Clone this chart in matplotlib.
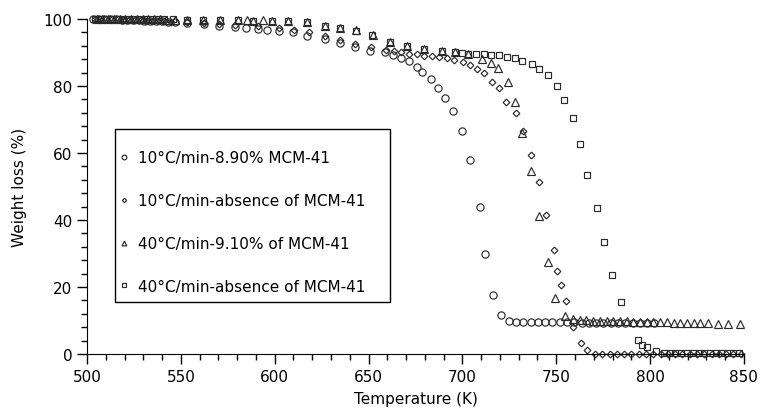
import matplotlib.pyplot as plt
from matplotlib.patches import Rectangle

plt.rcParams['font.family'] = ['DejaVu Sans']

# 10 C/min - 8.90% MCM-41 (circles)
t_c = [503.1, 506.1, 509.2, 512.3, 515.3, 518.4, 521.4, 524.5, 527.6, 530.6, 533.7,
       536.8, 539.8, 542.9, 547.0, 553.1, 562.3, 570.5, 578.6, 584.8, 590.9, 596.0,
       602.1, 609.8, 617.4, 626.6, 634.8, 643.0, 650.7, 658.8, 663.0, 667.5, 671.6,
       675.7, 678.7, 683.2, 686.9, 691.0, 695.1, 699.8, 704.3, 709.4, 712.0, 716.3,
       720.6, 724.7, 728.6, 732.4, 736.3, 740.2, 744.1, 748.0, 751.9, 755.7, 759.6,
       763.5, 767.4, 771.3, 775.1, 779.0, 782.9, 786.8, 790.7, 794.5, 798.4, 802.3]
w_c = [100, 100, 100, 100, 100, 99.8, 99.8, 99.6, 99.6, 99.5, 99.5,
       99.4, 99.3, 99.2, 99, 98.8, 98.5, 98, 97.5, 97.2, 97, 96.8,
       96.5, 96, 95, 94, 92.8, 91.5, 90.5, 90.1, 89.3, 88.3, 87.5,
       85.7, 84.1, 82, 79.4, 76.4, 72.5, 66.6, 58, 44, 30, 17.5,
       11.5, 9.8, 9.7, 9.7, 9.6, 9.6, 9.6, 9.5, 9.5, 9.5, 9.5,
       9.4, 9.4, 9.4, 9.4, 9.4, 9.3, 9.3, 9.3, 9.3, 9.3, 9.2]

# 10 C/min - absence of MCM-41 (diamonds)
t_d = [504.1, 507.1, 510.2, 513.3, 516.3, 519.4, 522.5, 525.5, 528.6, 531.7, 534.7,
       537.8, 540.9, 544.9, 553.1, 562.3, 570.5, 578.6, 590.9, 602.1, 610.3, 618.5,
       626.6, 634.8, 643.0, 651.2, 659.3, 663.4, 667.5, 671.6, 675.7, 679.4, 683.6,
       687.4, 691.7, 695.4, 700.2, 704.3, 708.0, 711.7, 716.0, 719.6, 723.3, 728.6,
       732.2, 736.5, 740.8, 744.5, 748.8, 750.2, 752.6, 755.2, 758.9, 763.2, 766.6,
       770.6, 774.5, 778.4, 782.3, 786.2, 790.0, 793.9, 797.8, 801.7, 805.6, 809.5,
       813.3, 817.2, 821.1, 825.0, 828.9, 832.8, 836.7, 840.5, 844.4, 848.3]
w_d = [100, 100, 100, 100, 100, 99.8, 99.8, 99.7, 99.6, 99.5, 99.5,
       99.4, 99.3, 99.2, 99, 98.8, 98.5, 98.2, 97.8, 97.3, 96.8, 96,
       95, 93.8, 92.5, 91.5, 90.8, 90.3, 90, 89.7, 89.5, 89, 89,
       88.7, 88.4, 87.8, 87.2, 86.3, 85, 83.9, 81.2, 79.4, 75.2, 72,
       66.6, 59.4, 51.3, 41.5, 31, 24.8, 20.6, 15.8, 8, 3.3, 1.2,
       0, 0, 0, 0, 0, 0, 0, 0, 0, 0, 0,
       0, 0, 0, 0, 0, 0, 0, 0, 0, 0]

# 40 C/min - 9.10% of MCM-41 (triangles)
t_t = [505.1, 508.2, 511.2, 514.3, 517.4, 520.4, 523.5, 526.6, 529.6, 532.7, 535.7,
       538.8, 541.9, 547.0, 553.1, 561.8, 570.9, 580.5, 585.3, 588.4, 593.8, 598.6,
       607.2, 617.2, 626.6, 634.8, 643.3, 652.2, 661.4, 670.4, 679.5, 688.9, 696.1,
       703.2, 710.4, 715.1, 719.1, 724.1, 728.1, 731.6, 736.5, 740.8, 745.7, 749.3,
       754.6, 758.9, 762.5, 766.0, 769.6, 773.2, 776.8, 780.4, 783.9, 787.5, 791.1,
       794.6, 798.2, 801.8, 805.4, 809.0, 812.5, 816.1, 819.7, 823.3, 826.8, 830.9,
       836.0, 841.5, 847.8]
w_t = [100, 100, 100, 100, 100, 100, 100, 100, 100, 99.9, 99.9,
       99.9, 99.8, 99.8, 99.8, 99.8, 99.7, 99.6, 99.8, 99.5, 99.6, 99.5,
       99.3, 99, 98, 97.2, 96.6, 95.3, 93.2, 92, 91, 90.4, 90,
       89.5, 88, 87, 85.4, 81.3, 75.1, 66, 54.7, 41.1, 27.4, 16.6,
       11.4, 10.4, 10.2, 10.1, 10, 10, 9.9, 9.9, 9.8, 9.8, 9.7,
       9.7, 9.6, 9.6, 9.5, 9.5, 9.4, 9.4, 9.3, 9.3, 9.2, 9.2,
       9.1, 9.1, 9]

# 40 C/min - absence of MCM-41 (squares)
t_s = [504.1, 507.1, 510.2, 513.3, 516.3, 519.4, 522.5, 525.5, 528.6, 531.7, 534.7,
       537.8, 540.9, 546.0, 553.1, 561.8, 570.9, 580.5, 588.4, 598.6, 607.2, 617.2,
       626.6, 634.8, 643.3, 651.9, 661.4, 670.4, 679.5, 688.9, 696.1, 699.7, 703.2,
       707.3, 711.4, 715.5, 719.6, 723.7, 727.8, 731.8, 737.0, 741.0, 745.6, 750.2,
       754.1, 758.8, 762.7, 766.6, 771.6, 775.5, 779.6, 784.4, 793.5, 795.7, 798.2,
       803.3, 807.4, 810.5, 813.5, 816.6, 819.7, 822.7, 825.8, 828.9, 831.9, 835.0,
       838.0, 841.1, 844.2, 847.2]
w_s = [100, 100, 100, 100, 100, 100, 100, 100, 100, 100, 100,
       99.9, 99.9, 99.9, 99.8, 99.8, 99.7, 99.6, 99.5, 99.5, 99.3, 99,
       98, 97.2, 96.5, 95.3, 93.2, 92, 91, 90.4, 90, 89.9, 89.6,
       89.5, 89.5, 89.4, 89.2, 88.8, 88.3, 87.6, 86.6, 85, 83.3, 80,
       75.9, 70.4, 62.7, 53.4, 43.6, 33.5, 23.7, 15.4, 4.3, 2.8, 2.2,
       0.8, 0.3, 0.2, 0.2, 0.2, 0.2, 0.2, 0.2, 0.2, 0.2, 0.2,
       0.2, 0.2, 0.2, 0.2]

labels = ['10\u00b0C/min-8.90% MCM-41',
          '10\u00b0C/min-absence of MCM-41',
          '40\u00b0C/min-9.10% of MCM-41',
          '40\u00b0C/min-absence of MCM-41']

fs = 11
fig = plt.figure(figsize=(7.63, 4.14), dpi=100)
ax = fig.add_axes([0.114, 0.1425, 0.861, 0.8092])

ec = '#2a2a2a'
common = dict(linestyle='none', markerfacecolor='none', markeredgecolor=ec,
              markeredgewidth=0.85, clip_on=False)
ax.plot(t_c, w_c, marker='o', markersize=5.2, label=labels[0], **common)
ax.plot(t_d, w_d, marker='D', markersize=3.4, label=labels[1], **common)
ax.plot(t_t, w_t, marker='^', markersize=5.2, label=labels[2], **common)
ax.plot(t_s, w_s, marker='s', markersize=4.8, label=labels[3], **common)

ax.set_xlim(500, 850)
ax.set_ylim(0, 100)
ax.set_xticks([500, 550, 600, 650, 700, 750, 800, 850])
ax.set_xticks(range(500, 851, 10), minor=True)
ax.set_yticks([0, 20, 40, 60, 80, 100])
ax.set_yticks(range(0, 101, 4), minor=True)
ax.tick_params(which='major', direction='out', length=7, width=1, labelsize=fs)
ax.tick_params(which='minor', direction='out', length=4, width=1)
ax.spines['top'].set_visible(False)
ax.spines['right'].set_visible(False)

ax.set_xlabel('Temperature (K)', fontsize=fs, labelpad=5)
ax.set_ylabel('Weight loss (%)', fontsize=fs, labelpad=12)

# legend frame drawn separately so the padding can differ in x and y
ax.add_patch(Rectangle((0.0426, 0.155), 0.4186, 0.517, transform=ax.transAxes,
                       fill=False, edgecolor='black', linewidth=1, clip_on=False))
ax.legend(loc='upper left', bbox_to_anchor=(0.047, 0.608), fontsize=fs,
          frameon=False, markerscale=0.65, labelspacing=1.82, handlelength=0.8,
          handletextpad=0.5, borderpad=0, borderaxespad=0)

fig.savefig('out.png', dpi=100)
